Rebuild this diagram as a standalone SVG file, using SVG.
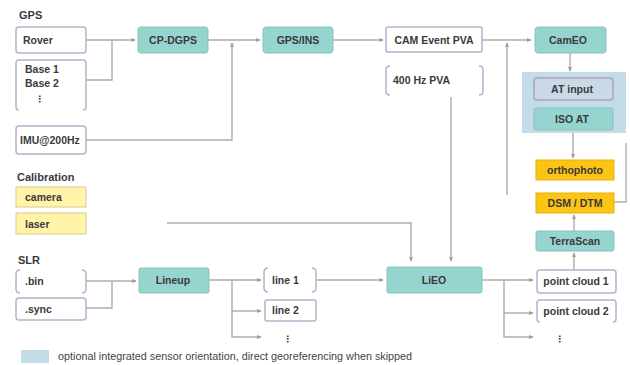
<svg xmlns="http://www.w3.org/2000/svg" width="630" height="365" viewBox="0 0 630 365">
<style>
text{font-family:"Liberation Sans",Arial,sans-serif;font-size:10.5px;font-weight:bold;fill:#3a3a3a}
.lbl{font-size:11px}
.leg{font-size:10.8px;font-weight:normal;fill:#444}
.c{text-anchor:middle}
.w{fill:#fff;stroke:#b9b1cb;stroke-width:1.5}
.br{fill:none;stroke:#b9b1cb;stroke-width:1.5}
.t{fill:#96d4cf;stroke:#86c3be;stroke-width:1}
.g{fill:#fcc414;stroke:#e8b20a;stroke-width:1}
.y{fill:#fff4a8;stroke:#d9c98e;stroke-width:1}
.at{fill:#cbd8e8;stroke:#aaa3c2;stroke-width:1.5}
.reg{fill:#c4dce7}
#connectors path{fill:none;stroke:#b5aaaa;stroke-width:1.4}
</style>
<defs>
<marker id="a" viewBox="0 0 6 6" refX="5" refY="3" markerWidth="5" markerHeight="5" orient="auto" markerUnits="userSpaceOnUse">
<path d="M0 0.5 L6 3 L0 5.5 Z" fill="#a89c9c"/>
</marker>
</defs>
<rect width="630" height="365" fill="#fff"/>

<g id="region-iso"><rect class="reg" x="522" y="72" width="104" height="61"/></g>

<g id="connectors">
<path d="M86 40 H135" marker-end="url(#a)"/>
<path d="M86 80 H112 V40"/>
<path d="M208 40 H260" marker-end="url(#a)"/>
<path d="M86 140 H232 V43" marker-end="url(#a)"/>
<path d="M333 40 H383" marker-end="url(#a)"/>
<path d="M482 40 H531" marker-end="url(#a)"/>
<path d="M507 195 V43" marker-end="url(#a)"/>
<path d="M570 53 V71" marker-end="url(#a)"/>
<path d="M573 133 V158" marker-end="url(#a)"/>
<path d="M614 202 H626 V143"/>
<path d="M574 231 V215" marker-end="url(#a)"/>
<path d="M574 270 V253" marker-end="url(#a)"/>
<path d="M482 280 H533" marker-end="url(#a)"/>
<path d="M504 280 V337 H533" marker-end="url(#a)"/>
<path d="M504 313 H533" marker-end="url(#a)"/>
<path d="M451 97 V261" marker-end="url(#a)"/>
<path d="M167 223 H411 V261" marker-end="url(#a)"/>
<path d="M316 280 H383" marker-end="url(#a)"/>
<path d="M86 281 H136" marker-end="url(#a)"/>
<path d="M86 308 H112 V281"/>
<path d="M209 280 H261" marker-end="url(#a)"/>
<path d="M232 280 V337 H261" marker-end="url(#a)"/>
<path d="M232 311 H261" marker-end="url(#a)"/>
</g>

<g id="label-gps"><text class="lbl" x="19" y="19">GPS</text></g>
<g id="rover"><rect class="w" x="16" y="27" width="70" height="26" rx="3"/><text x="23" y="44">Rover</text></g>
<g id="bases"><path class="br" d="M19 110 Q16 110 16 107 L16 63 Q16 60 19 60 L83 60 Q86 60 86 63 L86 107 Q86 110 83 110"/>
<text x="25" y="73">Base 1</text><text x="25" y="87">Base 2</text><text x="35" y="102" style="font-family:'DejaVu Sans',sans-serif;font-size:9px">⋮</text></g>
<g id="imu"><rect class="w" x="16" y="126" width="70" height="28" rx="3"/><text x="20" y="144">IMU@200Hz</text></g>
<g id="cpdgps"><rect class="t" x="138" y="27" width="70" height="26" rx="3"/><text class="c" x="173" y="44">CP-DGPS</text></g>
<g id="gpsins"><rect class="t" x="263" y="27" width="70" height="26" rx="3"/><text class="c" x="298" y="44">GPS/INS</text></g>
<g id="campva"><rect class="w" x="386" y="27" width="96" height="25" rx="2"/><text class="c" x="434" y="44">CAM Event PVA</text></g>
<g id="pva400"><path class="br" d="M390 66 Q386 66 386 70 L386 91 Q386 95 390 95 M479 66 Q483 66 483 70 L483 91 Q483 95 479 95"/><text x="393" y="84">400 Hz PVA</text></g>
<g id="cameo"><rect class="t" x="535" y="27" width="71" height="26" rx="3"/><text class="c" x="568" y="44">CamEO</text></g>
<g id="atinput"><rect class="at" x="534" y="78" width="79" height="22" rx="3"/><text class="c" x="572" y="93">AT input</text></g>
<g id="isoat"><rect class="t" x="534" y="108" width="79" height="22" rx="2"/><text class="c" x="572" y="123">ISO AT</text></g>
<g id="ortho"><rect class="g" x="536" y="160" width="78" height="20"/><text class="c" x="575" y="174">orthophoto</text></g>
<g id="dsm"><rect class="g" x="536" y="193" width="78" height="20"/><text class="c" x="575" y="207">DSM / DTM</text></g>
<g id="terrascan"><rect class="t" x="536" y="231" width="78" height="20" rx="2"/><text class="c" x="575" y="245">TerraScan</text></g>
<g id="pc1"><rect class="w" x="537" y="270" width="79" height="23" rx="3"/><text class="c" x="576" y="285">point cloud 1</text></g>
<g id="pc2"><path class="br" d="M540 322 Q537 322 537 319 L537 303 Q537 300 540 300 L613 300 Q616 300 616 303 L616 319 Q616 322 613 322"/><text class="c" x="576" y="315">point cloud 2</text></g>
<g id="pcmore"><text x="555" y="342" style="font-family:'DejaVu Sans',sans-serif;font-size:9px">⋮</text></g>
<g id="lieo"><rect class="t" x="387" y="267" width="95" height="26" rx="2"/><text class="c" x="434" y="284">LiEO</text></g>

<g id="label-calib"><text class="lbl" x="17" y="181">Calibration</text></g>
<g id="camera"><rect class="y" x="16" y="187" width="70" height="20"/><text x="25" y="201">camera</text></g>
<g id="laser"><rect class="y" x="16" y="213" width="70" height="21"/><text x="25" y="228">laser</text></g>

<g id="label-slr"><text class="lbl" x="18" y="264">SLR</text></g>
<g id="bin"><path class="br" d="M20 270 Q16 270 16 274 L16 289 Q16 293 20 293 M82 270 Q86 270 86 274 L86 289 Q86 293 82 293"/><text x="25" y="285">.bin</text></g>
<g id="sync"><rect class="w" x="16" y="298" width="70" height="22" rx="3"/><text x="25" y="313">.sync</text></g>
<g id="lineup"><rect class="t" x="139" y="268" width="70" height="25" rx="2"/><text class="c" x="173" y="284">Lineup</text></g>
<g id="line1"><path class="br" d="M268 268 Q264 268 264 272 L264 288 Q264 292 268 292 M312 268 Q316 268 316 272 L316 288 Q316 292 312 292"/><text x="272" y="284">line 1</text></g>
<g id="line2"><rect class="w" x="265" y="300" width="51" height="21" rx="2"/><text x="272" y="314">line 2</text></g>
<g id="linemore"><text x="283" y="342" style="font-family:'DejaVu Sans',sans-serif;font-size:9px">⋮</text></g>

<g id="legend"><rect class="reg" x="21" y="350" width="28" height="13"/><text class="leg" x="58" y="360">optional integrated sensor orientation, direct georeferencing when skipped</text></g>
</svg>
